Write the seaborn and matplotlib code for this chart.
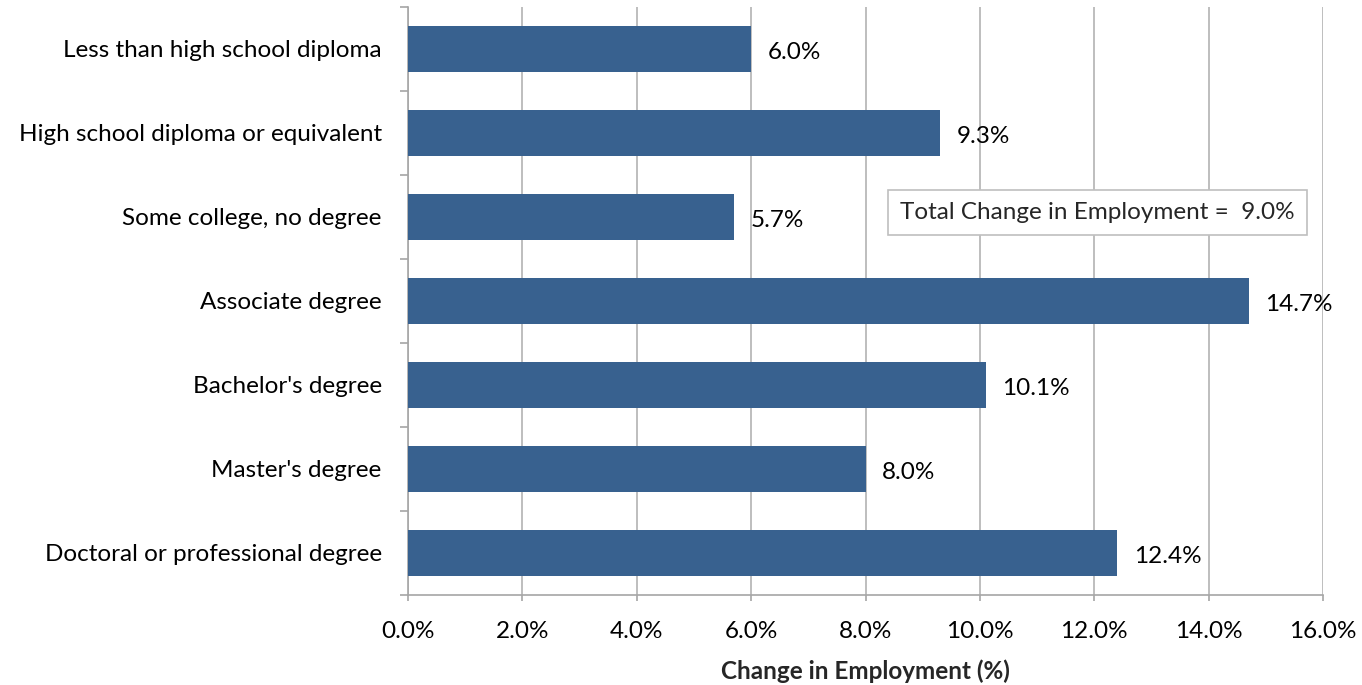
import pandas as pd
import matplotlib
matplotlib.use("Agg")
import matplotlib.pyplot as plt
import seaborn as sns
from matplotlib.ticker import FuncFormatter, FixedLocator

categorias = [
    "Less than high school diploma",
    "High school diploma or equivalent",
    "Some college, no degree",
    "Associate degree",
    "Bachelor's degree",
    "Master's degree",
    "Doctoral or professional degree",
]
variacao = [6.0, 9.3, 5.7, 14.7, 10.1, 8.0, 12.4]
total_texto = "Total Change in Employment =  9.0%"

df = pd.DataFrame({"categoria": categorias, "variacao": variacao})

sns.set_style("white")
plt.rcParams["font.family"] = ["Lato", "DejaVu Sans"]
fs = 17.5

fig = plt.figure(figsize=(13.62, 6.85), dpi=100)
ax = fig.add_axes([0.2996, 0.1314, 0.9714 - 0.2996, 0.9898 - 0.1314])

sns.barplot(data=df, x="variacao", y="categoria", orient="h", color="#38618f",
            saturation=1, width=0.55, linewidth=0, ax=ax, zorder=3)

ax.set_xlim(0, 16)
ax.set_ylim(len(categorias) - 0.5, -0.5)
ax.set_xticks(range(0, 17, 2))
ax.xaxis.set_major_formatter(FuncFormatter(lambda v, p: f"{v:.1f}%"))
ax.grid(axis="x", color="#b3b3b3", linewidth=1.2, zorder=0)
ax.grid(axis="y", visible=False)

for s in ["top", "right"]:
    ax.spines[s].set_visible(False)
for s in ["left", "bottom"]:
    ax.spines[s].set_color("#a6a6a6")
    ax.spines[s].set_linewidth(1.2)

ax.yaxis.set_minor_locator(FixedLocator([i - 0.5 for i in range(len(categorias) + 1)]))
ax.tick_params(axis="y", which="major", left=False, length=0, pad=19, labelsize=fs, labelcolor="black")
ax.tick_params(axis="y", which="minor", left=True, length=6, width=1.2, color="#a6a6a6", direction="out")
ax.tick_params(axis="x", which="major", bottom=True, length=4, width=1.2, color="#a6a6a6", direction="out",
               pad=15, labelsize=fs, labelcolor="black")

ax.set_ylabel("")
ax.set_xlabel("Change in Employment (%)", fontsize=fs, fontweight="bold", labelpad=12)

for i, v in enumerate(variacao):
    ax.annotate(f"{v:.1f}%", xy=(v, i), xytext=(12, -2.5), textcoords="offset points",
                ha="left", va="center", fontsize=fs, color="black")

ax.text(12.05, 1.95, total_texto, ha="center", va="center", fontsize=fs, zorder=5,
        bbox=dict(boxstyle="square,pad=0.5", facecolor="white", edgecolor="#bfbfbf", linewidth=1.2))

fig.savefig("out.png", dpi=100)
